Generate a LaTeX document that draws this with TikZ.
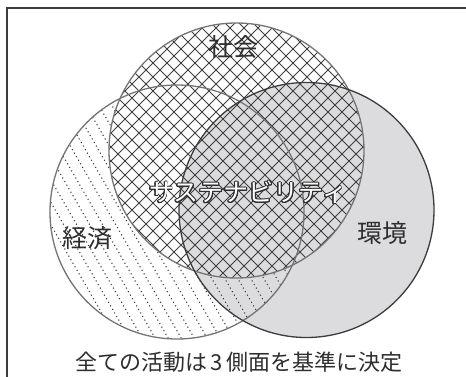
\documentclass[tikz,border=0pt]{standalone}
\usepackage{fontspec}
\newfontfamily\jp{Noto Sans CJK JP}
\usepackage[copies]{contour}
\contourlength{0.9pt}
\contournumber{24}
\definecolor{envgray}{HTML}{DCDCDE}
\definecolor{rimgray}{HTML}{747474}
\definecolor{rimdark}{HTML}{3C3C3C}
\definecolor{hatch}{HTML}{404040}
\definecolor{txt}{HTML}{2E2E2E}
\tikzset{
  frameline/.style={draw=rimdark,line width=1.6pt},
  hatchline/.style={draw=hatch,line width=0.8pt},
  dotline/.style={draw=hatch,line width=1.1pt,dash pattern=on 1.1pt off 3pt},
  rim/.style={draw=rimgray,line width=1.3pt},
  rimenv/.style={draw=rimdark,line width=1.3pt},
  lbl/.style={text=txt,font=\jp\fontsize{25}{28}\selectfont,inner sep=0pt},
  captext/.style={text=txt,font=\jp\fontsize{22}{25}\selectfont,inner sep=0pt},
}
\begin{document}
\begin{tikzpicture}[x=1pt,y=-1pt]
\useasboundingbox (0,0) rectangle (466,376);
\fill[white] (0,0) rectangle (466,376);
\coordinate (cS) at (236.5,150.5);
\coordinate (cE) at (177,212);
\coordinate (cV) at (306.5,210);
% frame
\draw[frameline] (470,8) -- (7,8) -- (7,380);
% environment fill
\fill[envgray] (cV) circle[radius=127.5pt];
% economy dotted lines (outside society)
\begin{scope}
  \clip (cE) circle[radius=127pt];
  \begin{scope}[even odd rule]
  \clip (-10,-10) rectangle (480,390) (cS) circle[radius=127.5pt];
  \foreach \c in {-300,-287,...,480}
    \draw[dotline] (\c,0) -- ++(250,433);
  \end{scope}
\end{scope}
% society crosshatch
\begin{scope}
  \clip (cS) circle[radius=127.5pt];
  \foreach \c in {-400,-386,...,760}{
    \draw[hatchline] (\c,0) -- ++(400,400);
    \draw[hatchline] (\c,0) -- ++(-400,400);
  }
\end{scope}
% outlines
\draw[rim] (cS) circle[radius=127.5pt];
\draw[rim] (cE) circle[radius=127pt];
\draw[rimenv] (cV) circle[radius=127.5pt];
% labels
\node[lbl] (shakai) at (233,47) {社会};
\node[lbl] (keizai) at (87,238) {経済};
\node[lbl] (kankyo) at (382,233) {環境};
\node[lbl] (sus) at (248,193) {\contour{txt}{\textcolor{white}{サステナビリティ}}};
\node[captext] (caption) at (239,362) {全ての活動は\,3\,側面を基準に決定};
\end{tikzpicture}
\end{document}
